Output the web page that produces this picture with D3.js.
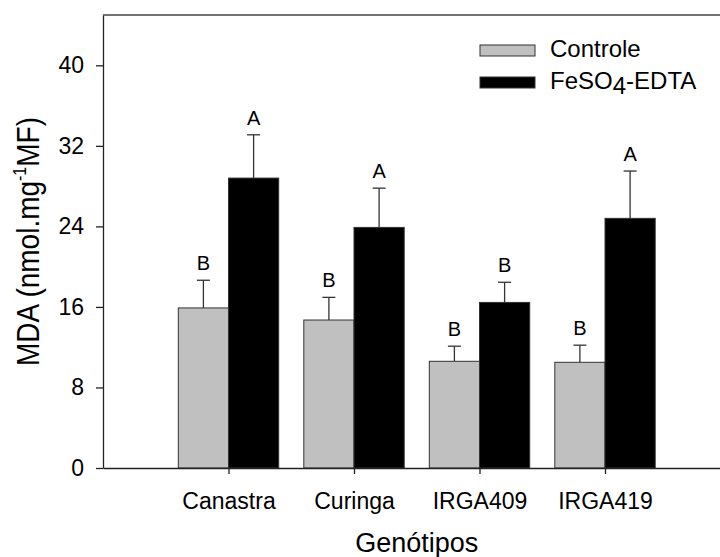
<!DOCTYPE html>
<html>
<head>
<meta charset="utf-8">
<script src="https://cdn.jsdelivr.net/npm/d3@7"></script>
<style>
  body { margin: 0; background: #fff; }
  text { font-family: "Liberation Sans", Arial, sans-serif; fill: #000; }
</style>
</head>
<body>
<div id="chart"></div>
<script>
const genotypes = ["Canastra", "Curinga", "IRGA409", "IRGA419"];
const controleMean = [15.9, 14.7, 10.6, 10.5];
const controleErr = [2.75, 2.25, 1.5, 1.7];
const controleLetters = ["B", "B", "B", "B"];
const feMean = [28.8, 23.9, 16.45, 24.8];
const feErr = [4.3, 3.9, 2.0, 4.7];
const feLetters = ["A", "A", "B", "A"];
const yTicks = [0, 8, 16, 24, 32, 40];

function drawChart(id) {
  let width = 720, height = 557;
  let left = 103, top = 15, bottom = 468, right = 730.5;
  let barW = 0.4;

  let svg = d3.select(`#${id}`).append("svg")
    .attr("width", width).attr("height", height);

  let x = d3.scaleLinear().domain([0, genotypes.length + 1]).range([left, right]);
  let y = d3.scaleLinear().domain([0, 45]).range([bottom, top]);

  // frame top line
  svg.append("line")
    .attr("x1", left).attr("x2", right)
    .attr("y1", top).attr("y2", top)
    .attr("stroke", "#444").attr("stroke-width", 1.5);

  let series = [
    {mean: controleMean, err: controleErr, letters: controleLetters, fill: "#c0c0c0", off: -barW},
    {mean: feMean, err: feErr, letters: feLetters, fill: "#000", off: 0}
  ];

  series.forEach(s => {
    genotypes.forEach((g, i) => {
      let x0 = x(i + 1 + s.off), x1 = x(i + 1 + s.off + barW);
      let cx = (x0 + x1) / 2;
      svg.append("rect")
        .attr("x", x0)
        .attr("y", y(s.mean[i]))
        .attr("width", x1 - x0)
        .attr("height", y(0) - y(s.mean[i]))
        .attr("fill", s.fill)
        .attr("stroke", "#333")
        .attr("stroke-width", 1);
      let yTop = y(s.mean[i] + s.err[i]);
      svg.append("line")
        .attr("x1", cx).attr("x2", cx)
        .attr("y1", y(s.mean[i])).attr("y2", yTop)
        .attr("stroke", "#333").attr("stroke-width", 1.3);
      svg.append("line")
        .attr("x1", cx - 6.5).attr("x2", cx + 6.5)
        .attr("y1", yTop).attr("y2", yTop)
        .attr("stroke", "#333").attr("stroke-width", 1.3);
      svg.append("text")
        .attr("x", cx)
        .attr("y", yTop - 10)
        .attr("text-anchor", "middle")
        .style("font-size", "20px")
        .text(s.letters[i]);
    });
  });

  let xAxis = svg.append("g")
    .attr("transform", `translate(0,${bottom})`)
    .call(d3.axisBottom(x)
      .tickValues(genotypes.map((g, i) => i + 1))
      .tickFormat((d) => genotypes[d - 1])
      .tickSize(6).tickSizeOuter(0).tickPadding(19));
  xAxis.selectAll("text").style("font-size", "23px");

  let yAxis = svg.append("g")
    .attr("transform", `translate(${left},0)`)
    .call(d3.axisLeft(y).tickValues(yTicks).tickSize(7).tickSizeOuter(0).tickPadding(12));
  yAxis.selectAll("text").style("font-size", "23px");

  svg.selectAll(".domain, .tick line").attr("stroke", "#222").attr("stroke-width", 1.3);

  // axis titles
  svg.append("text")
    .attr("x", (left + right) / 2)
    .attr("y", 552)
    .attr("text-anchor", "middle")
    .style("font-size", "27px")
    .text("Genótipos");

  // reference text is a bit stretched across, so widen the rotated title
  let yt = svg.append("text")
    .attr("transform", `translate(39,${(top + bottom) / 2}) scale(1.15,1) rotate(-90)`)
    .attr("text-anchor", "middle")
    .style("font-size", "28px");
  yt.append("tspan").text("MDA (nmol.mg");
  yt.append("tspan").attr("dy", -11).style("font-size", "16px").text("-1");
  yt.append("tspan").attr("dy", 11).text("MF)");

  // legend
  let legend = [
    {label: "Controle", fill: "#c0c0c0", y: 45},
    {label: "FeSO", sub: "4", rest: "-EDTA", fill: "#000", y: 77}
  ];
  legend.forEach(l => {
    svg.append("rect")
      .attr("x", 480).attr("y", l.y)
      .attr("width", 55).attr("height", 11)
      .attr("fill", l.fill).attr("stroke", "#333");
    let t = svg.append("text")
      .attr("x", 550).attr("y", l.y + 11.5)
      .style("font-size", "24px");
    t.append("tspan").text(l.label);
    if (l.sub) {
      t.append("tspan").attr("dy", 5).text(l.sub);
      t.append("tspan").attr("dy", -5).text(l.rest);
    }
  });
}

drawChart("chart");
</script>
</body>
</html>
